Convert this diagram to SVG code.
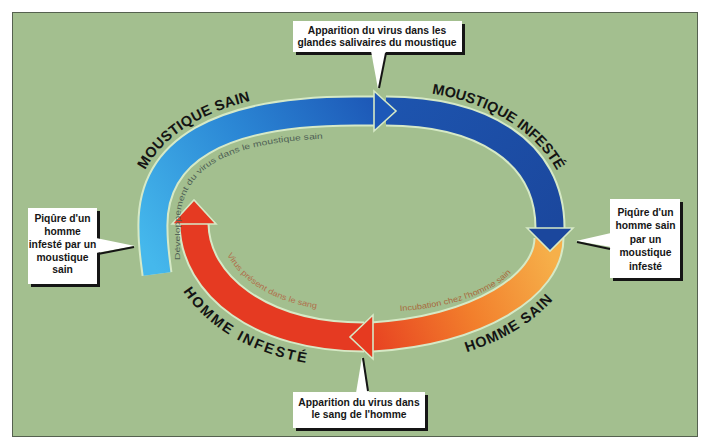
<svg xmlns="http://www.w3.org/2000/svg" width="704" height="440" viewBox="0 0 704 440">
<defs>
<linearGradient id="gBlue" gradientUnits="userSpaceOnUse" x1="150" y1="260" x2="390" y2="110">
<stop offset="0" stop-color="#45b8ec"/>
<stop offset="0.5" stop-color="#2b87d5"/>
<stop offset="1" stop-color="#1c55b5"/>
</linearGradient>
<linearGradient id="gDark" gradientUnits="userSpaceOnUse" x1="390" y1="110" x2="560" y2="240">
<stop offset="0" stop-color="#1d54ae"/>
<stop offset="1" stop-color="#1b479d"/>
</linearGradient>
<linearGradient id="gOrange" gradientUnits="userSpaceOnUse" x1="550" y1="250" x2="352" y2="337">
<stop offset="0" stop-color="#f6b04a"/>
<stop offset="0.45" stop-color="#f27f2c"/>
<stop offset="1" stop-color="#e63a20"/>
</linearGradient>
<path id="tpMS" d="M132 290 L132 230 C129 139.5 209.5 90 355 90 L400 90"/>
<path id="tpMI" d="M388 90 C485 90 571 140 571 228 L571 280"/>
<path id="tpHS" d="M330 366 L372 366 C500 366 577 300 577 244 L577 200"/>
<path id="tpHI" d="M163 200 L163 224 C163 307 243 367 356 367 L400 367"/>
<path id="tpDV" d="M180 300 L180 230 C177 164 234 138 355 138 L390 138"/>
<path id="tpIN" d="M350 312 L372 312 C462 312 522 284 524 244 L524 220"/>
<path id="tpVS" d="M219 200 L219 224 C221 275 274 312 360 312"/>
</defs>
<style>
.glow{fill:none;stroke:#d6e9c6;stroke-width:31}
.band{fill:none;stroke-width:27}
.head{stroke:#d6e9c6;stroke-width:1.6;stroke-linejoin:miter}
.lbl{font-family:"Liberation Sans",Arial,sans-serif;font-weight:bold;font-size:14.5px;fill:#141414}
.sm{font-family:"Liberation Sans",Arial,sans-serif;font-size:8px}
.co{font-family:"Liberation Sans",Arial,sans-serif;font-weight:bold;font-size:10.3px;fill:#161616;text-anchor:middle}
.box{fill:#ffffff}
.shd{fill:#151515}
.ptr{fill:#ffffff}
.ptl{stroke:#151515;stroke-width:2;fill:none}
</style>
<rect x="0" y="0" width="704" height="440" fill="#ffffff"/>
<rect x="12.5" y="12.5" width="685" height="424" fill="#a3bf8f" stroke="#55614f" stroke-width="1"/>

<g id="connectors">
<path class="glow" d="M157 274 C155 258 153 246 153 230 C150 150 220 111 355 111 L375 111"/>
<path class="glow" d="M386 111 C480 111 550 150 550 228 L550 229"/>
<path class="glow" d="M549 238 C549 285 480 330 372 337"/>
<path class="glow" d="M364 337 C260 337 195 285 194 224"/>
<path class="band" stroke="url(#gBlue)" d="M157 274 C155 258 153 246 153 230 C150 150 220 111 355 111 L375 111"/>
<path class="band" stroke="url(#gDark)" d="M386 111 C480 111 550 150 550 228 L550 229"/>
<path class="band" stroke="url(#gOrange)" d="M549 238 C549 285 480 330 372 337"/>
<path class="band" stroke="#e53a22" d="M364 337 C260 337 195 285 194 224"/>
<polygon class="head" fill="#1d58b8" points="374,91 396,111 374,131"/>
<polygon class="head" fill="#1b479d" points="527,228 550,251 573,228"/>
<polygon class="head" fill="#e63a20" points="373,315 350,337 373,359"/>
<polygon class="head" fill="#e53a22" points="172,224 194,200 216,224"/>
<text class="sm" fill="#4f5f55"><textPath href="#tpDV" startOffset="40" textLength="222" lengthAdjust="spacingAndGlyphs">Développement du virus dans le moustique sain</textPath></text>
<text class="sm" fill="#a8693c"><textPath href="#tpIN" startOffset="50" textLength="120" lengthAdjust="spacingAndGlyphs">Incubation chez l'homme sain</textPath></text>
<text class="sm" fill="#b0704c"><textPath href="#tpVS" startOffset="56" textLength="108" lengthAdjust="spacingAndGlyphs">Virus présent dans le sang</textPath></text>
</g>

<g id="node-moustique-sain">
<text class="lbl"><textPath href="#tpMS" startOffset="122" textLength="130" lengthAdjust="spacing">MOUSTIQUE SAIN</textPath></text>
</g>
<g id="node-moustique-infeste">
<text class="lbl"><textPath href="#tpMI" startOffset="44" textLength="152" lengthAdjust="spacing">MOUSTIQUE INFESTÉ</textPath></text>
</g>
<g id="node-homme-sain">
<text class="lbl"><textPath href="#tpHS" startOffset="138" textLength="102" lengthAdjust="spacing">HOMME SAIN</textPath></text>
</g>
<g id="node-homme-infeste">
<text class="lbl"><textPath href="#tpHI" startOffset="95" textLength="146" lengthAdjust="spacing">HOMME INFESTÉ</textPath></text>
</g>

<g id="callout-top">
<rect class="shd" x="296" y="24" width="169" height="31"/>
<rect class="box" x="293" y="21" width="169" height="31"/>
<polygon class="ptr" points="371,51 386,51 378,89"/>
<line class="ptl" x1="386" y1="53" x2="379" y2="88"/>
<text class="co" x="377" y="33.5">Apparition du virus dans les</text>
<text class="co" x="377" y="46">glandes salivaires du moustique</text>
</g>

<g id="callout-left">
<rect class="shd" x="31" y="211" width="69" height="76"/>
<rect class="box" x="28" y="208" width="69" height="76"/>
<polygon class="ptr" points="96,238 96,253 135,246"/>
<line class="ptl" x1="98" y1="254" x2="134" y2="247"/>
<text class="co" x="62.5" y="222">Piqûre d'un</text>
<text class="co" x="62.5" y="234.5">homme</text>
<text class="co" x="62.5" y="247.5">infesté par un</text>
<text class="co" x="62.5" y="260.5">moustique</text>
<text class="co" x="62.5" y="273">sain</text>
</g>

<g id="callout-right">
<rect class="shd" x="613" y="202" width="70" height="79"/>
<rect class="box" x="610" y="199" width="70" height="79"/>
<polygon class="ptr" points="611,233 611,247 576,241"/>
<line class="ptl" x1="577" y1="242" x2="610" y2="249"/>
<text class="co" x="645.5" y="215.5">Piqûre d'un</text>
<text class="co" x="645.5" y="228.5">homme sain</text>
<text class="co" x="645.5" y="242.5">par un</text>
<text class="co" x="645.5" y="256">moustique</text>
<text class="co" x="645.5" y="269.5">infesté</text>
</g>

<g id="callout-bottom">
<rect class="shd" x="296" y="395" width="132" height="36"/>
<rect class="box" x="293" y="392" width="132" height="36"/>
<polygon class="ptr" points="356,393 369,393 362,357"/>
<line class="ptl" x1="368" y1="391" x2="363" y2="358"/>
<text class="co" x="359" y="405.5">Apparition du virus dans</text>
<text class="co" x="359" y="418">le sang de l'homme</text>
</g>
</svg>
